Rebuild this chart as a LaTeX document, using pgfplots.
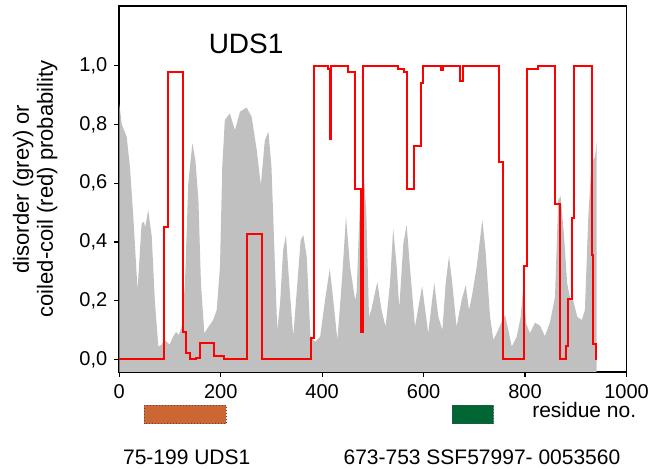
\documentclass[border=0pt]{standalone}
\usepackage{pgfplots}
\pgfplotsset{compat=1.18}
\usepackage{fontspec}
\setmainfont{Liberation Sans}

\definecolor{disgrey}{RGB}{192,192,192}
\definecolor{ccred}{RGB}{255,0,0}
\definecolor{udsorange}{RGB}{204,102,51}
\definecolor{ssfgreen}{RGB}{0,102,51}

% disorder profile (grey area)
\pgfplotstableread{
res val
0 -0.043
0 0.87
5 0.80
14.6 0.758
21 0.656
27.6 0.486
36 0.236
44 0.463
48.5 0.469
51 0.45
57 0.509
64 0.418
70 0.202
77 0.043
83 0.05
90 0.066
99 0.05
106 0.077
112 0.094
117 0.083
123 0.111
129.5 0.259
136 0.6
144 0.736
150 0.679
156 0.543
161 0.259
167.6 0.089
175.5 0.11
185 0.134
192 0.168
198.5 0.315
203 0.656
208 0.815
218 0.838
228 0.781
238 0.844
251 0.858
261 0.826
271 0.713
279 0.594
287 0.747
294 0.776
300 0.656
307 0.315
311.5 0.1
317 0.191
323 0.372
328.6 0.424
335 0.259
343 0.079
351 0.259
357.6 0.406
362.8 0.424
369.5 0.35
377 0.077
386 0.06
396 0.077
405.6 0.202
415 0.31
422 0.2
430 0.066
438.5 0.259
447 0.486
455 0.315
465 0.202
468 0.23
474.6 0.543
482.5 0.622
487 0.5
492.3 0.145
497 0.17
508.7 0.264
517 0.168
525 0.111
533.7 0.259
540 0.446
547 0.315
552 0.174
560 0.395
566.6 0.458
573 0.315
583 0.111
591 0.191
597 0.25
604 0.157
609 0.089
616 0.191
621 0.261
629 0.145
637 0.1
643.5 0.259
650 0.352
656.5 0.259
665 0.111
675 0.202
683 0.253
689.5 0.168
695 0.213
704.6 0.315
715.7 0.475
722 0.372
731 0.145
737.5 0.066
747 0.1
754 0.128
760.5 0.151
767 0.1
773.7 0.043
783.5 0.077
791.4 0.145
796.5 0.247
802 0.123
809.7 0.089
819.6 0.125
829.5 0.115
839 0.079
849 0.125
859 0.213
865.5 0.543
870 0.556
877 0.418
883 0.259
888.6 0.21
895 0.2
903 0.145
911.7 0.134
918 0.168
924.7 0.486
931 0.668
938 0.69
941 0.741
941 -0.043
}\disorder

% coiled-coil probability (red steps, value held from res on)
\pgfplotstableread{
res val
0 0
89 0.45
96.5 0.98
126 0.094
131 0.022
139 0
152 0.005
159 0.055
187 0.01
207 0
252 0.426
281 0
378 0.073
384 1.0
412 0.99
415 0.75
418 1.0
451 0.98
465 0.58
476 0.094
480 1.0
550 0.99
561 0.98
567 0.58
581 0.727
595 0.94
598 1.0
634 0.985
639 1.0
672 0.95
677 1.0
749 0.673
756 0
798 0.318
803 0.99
826 1.0
860 0.53
868 0
881 0.045
885 0.204
893 0.48
896 1.0
931 0.355
934 0.052
940 0
942 0
}\coiled

\begin{document}
\begin{tikzpicture}
\begin{axis}[
  scale only axis,
  width=253.6pt, height=183pt,
  xmin=0, xmax=1000, ymin=-0.043, ymax=1.204,
  clip=false,
  axis line style={line width=0.8pt},
  tick align=outside, tick pos=left,
  major tick length=2.5pt,
  every tick/.style={black, line width=0.6pt},
  xtick={0,200,...,1000},
  ytick={0,0.2,...,1.0},
  /pgf/number format/assume math mode=true,
  ticklabel style={font=\fontsize{10}{12}\selectfont},
  xticklabel style={/pgf/number format/1000 sep={}},
  yticklabel style={/pgf/number format/.cd, fixed, fixed zerofill, precision=1, use comma},
  ylabel={disorder (grey) or\\coiled-coil (red) probability},
  ylabel style={at={(axis description cs:-0.1656,0.5)}, anchor=center,
    align=center, font=\fontsize{11}{12}\selectfont},
]
\addplot[fill=disgrey, draw=none] table[x=res, y=val] {\disorder};
\addplot[const plot, draw=ccred, line width=1pt] table[x=res, y=val] {\coiled};

% domain bars under the axis
\addplot[fill=udsorange, draw=black!70, densely dotted, line width=0.5pt]
  coordinates {(48.7,-0.156) (210.4,-0.156) (210.4,-0.220) (48.7,-0.220) (48.7,-0.156)};
\addplot[fill=ssfgreen, draw=black!70, densely dotted, line width=0.5pt]
  coordinates {(656,-0.156) (738,-0.156) (738,-0.220) (656,-0.220) (656,-0.156)};

\node[font=\fontsize{14}{16}\selectfont] at (axis cs:250,1.074) {UDS1};
\node[anchor=base east, font=\fontsize{10.5}{12}\selectfont] at (axis cs:1033,-0.197) {residue no.};
\node[anchor=base, font=\fontsize{10.5}{12}\selectfont] at (axis cs:133,-0.359) {75-199 UDS1};
\node[anchor=base, font=\fontsize{10.5}{12}\selectfont] at (axis cs:715,-0.359) {673-753 SSF57997- 0053560};
\end{axis}
\pgfresetboundingbox
\path ([xshift=-59.65pt,yshift=3pt]current axis.north west) rectangle ([xshift=21.25pt,yshift=-48.5pt]current axis.south east);
\end{tikzpicture}
\end{document}
